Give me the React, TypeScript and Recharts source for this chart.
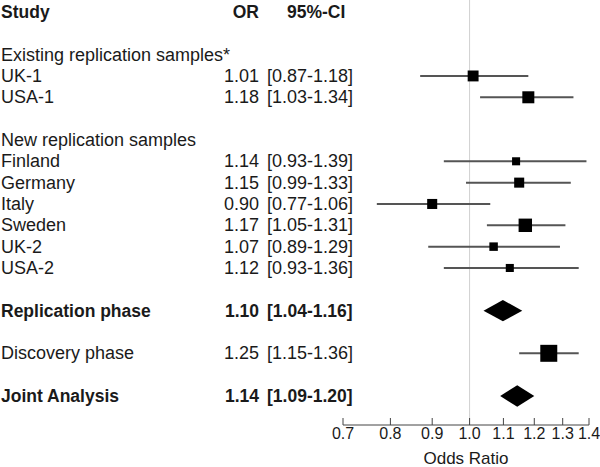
import React from "react";
import {
  ScatterChart,
  Scatter,
  XAxis,
  YAxis,
  ReferenceLine,
  ReferenceArea,
} from "recharts";

// individual studies
const studyNames = ["UK-1", "USA-1", "Finland", "Germany", "Italy", "Sweden", "UK-2", "USA-2"];
const studyOR = [1.01, 1.18, 1.14, 1.15, 0.9, 1.17, 1.07, 1.12];
const studyLo = [0.87, 1.03, 0.93, 0.99, 0.77, 1.05, 0.89, 0.93];
const studyHi = [1.18, 1.34, 1.39, 1.33, 1.06, 1.31, 1.29, 1.36];
const studyWeight = [3.3, 4.0, 1.8, 2.8, 2.8, 5.0, 2.0, 1.8];
const studyRow = [3, 4, 7, 8, 9, 10, 11, 12];

// group headings
const groupNames = ["Existing replication samples*", "New replication samples"];
const groupRow = [2, 6];

// pooled / summary rows
const summaryNames = ["Replication phase", "Discovery phase", "Joint Analysis"];
const summaryOR = [1.1, 1.25, 1.14];
const summaryLo = [1.04, 1.15, 1.09];
const summaryHi = [1.16, 1.36, 1.2];
const summaryRow = [14, 16, 18];
const summaryDiamond = [true, false, true];
const summaryWeight = [0, 8.0, 0];

const xTicks = [0.7, 0.8, 0.9, 1.0, 1.1, 1.2, 1.3, 1.4];

const FONT = "'Liberation Sans', Arial, sans-serif";
const TEXT = "#1a1a1a";

type RowText = { label: string; or?: string; ci?: string; bold?: boolean; ciHeader?: boolean };

const ci = (lo: number, hi: number) => `[${lo.toFixed(2)}-${hi.toFixed(2)}]`;

const rowText: Record<number, RowText> = {
  0: { label: "Study", or: "OR", ci: "95%-CI", bold: true, ciHeader: true },
};
groupNames.forEach((g, i) => (rowText[groupRow[i]] = { label: g }));
studyNames.forEach(
  (s, i) =>
    (rowText[studyRow[i]] = {
      label: s,
      or: studyOR[i].toFixed(2),
      ci: ci(studyLo[i], studyHi[i]),
    })
);
summaryNames.forEach(
  (s, i) =>
    (rowText[summaryRow[i]] = {
      label: s,
      or: summaryOR[i].toFixed(2),
      ci: ci(summaryLo[i], summaryHi[i]),
      bold: summaryDiamond[i],
    })
);

const points = [
  ...studyNames.map((_, i) => ({ x: studyOR[i], row: studyRow[i], w: studyWeight[i] })),
  ...summaryNames
    .map((_, i) => ({ x: summaryOR[i], row: summaryRow[i], w: summaryWeight[i] }))
    .filter((_, i) => !summaryDiamond[i]),
];

const intervals = [
  ...studyNames.map((_, i) => ({ lo: studyLo[i], hi: studyHi[i], row: studyRow[i] })),
  ...summaryNames
    .map((_, i) => ({ lo: summaryLo[i], hi: summaryHi[i], row: summaryRow[i] }))
    .filter((_, i) => !summaryDiamond[i]),
];

const diamonds = summaryNames
  .map((_, i) => ({ lo: summaryLo[i], hi: summaryHi[i], row: summaryRow[i] }))
  .filter((_, i) => summaryDiamond[i]);

const rowTicks = Array.from({ length: 19 }, (_, i) => i);

function RowTick(props: any) {
  const { y, payload } = props;
  const t = rowText[payload.value];
  if (!t) return null;
  const weight = t.bold ? "bold" : "normal";
  return (
    <g fontFamily={FONT} fontSize={t.bold ? 17.5 : 18} fill={TEXT} fontWeight={weight}>
      <text x={1} y={y} dy={6}>{t.label}</text>
      {t.or && (
        <text x={259} y={y} dy={6} textAnchor="end">{t.or}</text>
      )}
      {t.ci && (
        <text x={t.ciHeader ? 287 : 267} y={y} dy={6}>{t.ci}</text>
      )}
    </g>
  );
}

function XTick(props: any) {
  const { x, y, payload } = props;
  return (
    <text x={x} y={y} dy={11} textAnchor="middle" fontFamily={FONT} fontSize={16} fill={TEXT}>
      {Number(payload.value).toFixed(1)}
    </text>
  );
}

function Box(props: any) {
  const { cx, cy, payload } = props;
  const s = 6 * Math.sqrt(payload.w);
  return <rect x={cx - s / 2} y={cy - s / 2} width={s} height={s} fill="#000" />;
}

function Diamond(props: any) {
  const { x, y, width, height } = props;
  const mx = x + width / 2;
  const my = y + height / 2;
  return (
    <polygon
      points={`${x},${my} ${mx},${y} ${x + width},${my} ${mx},${y + height}`}
      fill="#000"
    />
  );
}

export default function App() {
  return (
    <div style={{ position: "absolute", left: 0, top: 0, background: "#fff" }}>
      <ScatterChart
        width={600}
        height={467}
        margin={{ top: 0, right: 11, bottom: 0, left: 0 }}
      >
        <XAxis
          type="number"
          dataKey="x"
          scale="log"
          domain={[0.7, 1.4]}
          ticks={xTicks}
          allowDataOverflow
          height={42}
          tickSize={-7}
          tickMargin={10}
          stroke="#444"
          tick={<XTick />}
          label={{
            value: "Odds Ratio",
            position: "insideBottom",
            offset: 3,
            fill: TEXT,
            fontSize: 17,
            fontFamily: FONT,
          }}
        />
        <YAxis
          type="number"
          dataKey="row"
          domain={[-0.56, 19.36]}
          reversed
          ticks={rowTicks}
          interval={0}
          width={343}
          axisLine={false}
          tickLine={false}
          tick={<RowTick />}
        />
        <ReferenceLine x={1} stroke="#d0d0d0" strokeWidth={1} />
        {intervals.map((c, i) => (
          <ReferenceLine
            key={`ci-${i}`}
            segment={[
              { x: c.lo, y: c.row },
              { x: c.hi, y: c.row },
            ]}
            stroke="#555"
            strokeWidth={2}
          />
        ))}
        {diamonds.map((d, i) => (
          <ReferenceArea
            key={`dm-${i}`}
            x1={d.lo}
            x2={d.hi}
            y1={d.row - 0.5}
            y2={d.row + 0.5}
            shape={<Diamond />}
          />
        ))}
        <Scatter data={points} shape={<Box />} isAnimationActive={false} />
      </ScatterChart>
    </div>
  );
}
